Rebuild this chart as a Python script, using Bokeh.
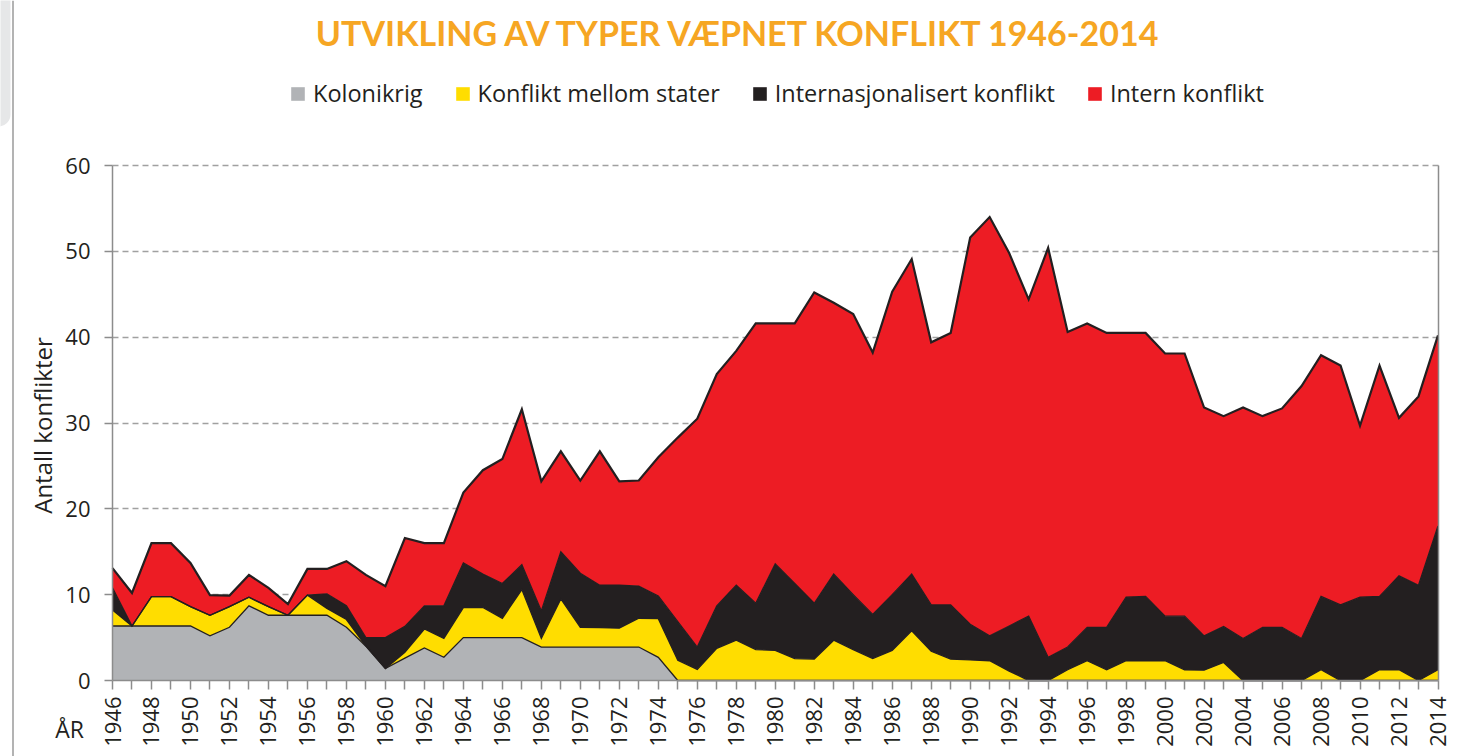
from bokeh.plotting import figure
from bokeh.models import (ColumnDataSource, FixedTicker, Legend, LegendItem, Label,
                          Range1d, LinearAxis, Span, BoxAnnotation)
from bokeh.embed import file_html
from bokeh.resources import INLINE

years = list(range(1946, 2015))

kolonikrig = [6.35, 6.35, 6.35, 6.35, 6.35, 5.2, 6.2, 8.7, 7.6, 7.6,
              7.6, 7.6, 6.2, 4.0, 1.4, 2.6, 3.8, 2.7, 5.0, 5.0,
              5.0, 5.0, 3.9, 3.9, 3.9, 3.9, 3.9, 3.9, 2.7, 0,
              0, 0, 0, 0, 0, 0, 0, 0, 0, 0,
              0, 0, 0, 0, 0, 0, 0, 0, 0, 0,
              0, 0, 0, 0, 0, 0, 0, 0, 0, 0,
              0, 0, 0, 0, 0, 0, 0, 0, 0]

mellom_stater = [1.85, 0, 3.42, 3.42, 2.25, 2.4, 2.4, 1.0, 1.0, 0,
                 2.35, 0.8, 0.9, 0, 0, 0.7, 2.2, 2.2, 3.5, 3.5,
                 2.25, 5.6, 1.0, 5.6, 2.3, 2.25, 2.2, 3.35, 4.5, 2.35,
                 1.3, 3.75, 4.7, 3.6, 3.5, 2.55, 2.5, 4.7, 3.6, 2.55,
                 3.5, 5.8, 3.4, 2.5, 2.4, 2.3, 1.1, 0, 0, 1.25,
                 2.3, 1.25, 2.3, 2.3, 2.3, 1.25, 1.2, 2.1, 0, 0,
                 0, 0, 1.25, 0, 0, 1.25, 1.25, 0, 1.25]

internasjonalisert = [2.6, 0, 0, 0, 0, 0, 0, 0, 0, 0,
                      0, 1.7, 1.6, 1.0, 3.6, 3.0, 2.7, 3.8, 5.2, 3.9,
                      4.05, 2.9, 3.2, 5.5, 6.3, 4.95, 5.0, 3.75, 2.65, 4.5,
                      2.6, 4.95, 6.4, 5.4, 10.1, 8.75, 6.5, 7.7, 6.4, 5.15,
                      6.5, 6.6, 5.4, 6.3, 4.15, 2.9, 5.25, 7.5, 2.7, 2.65,
                      3.9, 4.95, 7.4, 7.5, 5.2, 6.25, 4.0, 4.2, 4.9, 6.2,
                      6.2, 4.9, 8.55, 8.8, 9.7, 8.55, 10.95, 11.1, 16.75]

intern = [2.3, 3.85, 6.23, 6.23, 5.1, 2.35, 1.3, 2.6, 2.2, 1.3,
          3.05, 2.9, 5.2, 7.3, 6.0, 10.3, 7.3, 7.3, 8.2, 12.1,
          14.5, 18.1, 15.1, 11.7, 10.8, 15.6, 12.1, 12.3, 16.15, 21.45,
          26.6, 27.0, 27.3, 32.6, 28.0, 30.3, 36.2, 31.6, 32.7, 30.5,
          35.3, 36.7, 30.6, 31.7, 45.05, 48.8, 43.45, 36.9, 47.7, 36.7,
          35.4, 34.3, 30.8, 30.7, 30.6, 30.6, 26.6, 24.5, 26.9, 24.6,
          25.5, 29.4, 28.1, 27.9, 20.0, 26.9, 18.4, 22.0, 22.2]

series_names = ["Kolonikrig", "Konflikt mellom stater",
                "Internasjonalisert konflikt", "Intern konflikt"]
colors = ["#B1B3B6", "#FFDD00", "#231F20", "#ED1C24"]
y_ticks = [0, 10, 20, 30, 40, 50, 60]

series = [kolonikrig, mellom_stater, internasjonalisert, intern]
stackers = ["kol", "sta", "intl", "intn"]
data = dict(year=years)
cum = [0.0] * len(years)
for key, vals in zip(stackers, series):
    data[key] = vals
    cum = [c + v for c, v in zip(cum, vals)]
    data[key + "_top"] = cum
src = ColumnDataSource(data)

# ---- layout constants (canvas pixels) ----
W, H = 1456, 756
X0_PX, X1_PX = 112, 1437.5      # canvas x of 1946 and 2014
Y0_PX, Y1_PX = 680, 165         # canvas y (from top) of 0 and 60
xs = (X1_PX - X0_PX) / (2014 - 1946)
ys = (Y0_PX - Y1_PX) / 60.0
x_start = 1946 - X0_PX / xs
x_end = 2014 + (W - X1_PX) / xs
y_start = -(H - Y0_PX) / ys
y_end = 60 + Y1_PX / ys

def dx(px):
    return 1946 + (px - X0_PX) / xs

def dy(py):
    return (Y0_PX - py) / ys

FONT = "Open Sans"
TXT = "#231F20"
AX = "#8C8C8C"

p = figure(width=W, height=H, min_border=0,
           x_range=Range1d(x_start, x_end), y_range=Range1d(y_start, y_end),
           x_axis_location=None, y_axis_location=None,
           output_backend="svg", toolbar_location=None, title=None)
p.outline_line_color = None
p.background_fill_color = "white"
p.border_fill_color = "white"

# page decoration at the left edge
p.add_layout(BoxAnnotation(left=dx(-20), right=dx(10), top=dy(-20), bottom=dy(126),
                           fill_color="#E6E7E8", fill_alpha=1, line_color=None,
                           border_radius=12))
p.add_layout(Span(location=dx(12.5), dimension="height", line_color="#9A9A9A",
                  line_width=1.5))

areas = p.varea_stack(stackers=stackers, x="year", color=colors, source=src)
for key, lw in zip(stackers, [1.3, 1.3, 1.3, 2.2]):
    p.line(x="year", y=key + "_top", source=src, line_color=TXT, line_width=lw,
           line_join="miter")

# axes placed at fixed locations inside the frame
yax = LinearAxis(fixed_location=1946, bounds=(0, 60), ticker=FixedTicker(ticks=y_ticks),
                 axis_line_color=AX, axis_line_width=1.5,
                 major_tick_line_color=AX, major_tick_line_width=1.5,
                 major_tick_in=0, major_tick_out=8, minor_tick_line_color=None,
                 major_label_text_font=FONT, major_label_text_font_size="22px",
                 major_label_text_color=TXT, major_label_standoff=14)
p.add_layout(yax, "left")

xax = LinearAxis(fixed_location=0, bounds=(1946, 2014), ticker=FixedTicker(ticks=years),
                 major_label_overrides={y: (str(y) if y % 2 == 0 else "") for y in years},
                 major_label_orientation=1.5707963,
                 axis_line_color=AX, axis_line_width=1.5,
                 major_tick_line_color=AX, major_tick_line_width=1.5,
                 major_tick_in=0, major_tick_out=9, minor_tick_line_color=None,
                 major_label_text_font=FONT, major_label_text_font_size="22px",
                 major_label_text_color=TXT, major_label_standoff=7)
p.add_layout(xax, "below")

rax = LinearAxis(fixed_location=2014, bounds=(0, 60), ticker=FixedTicker(ticks=[]),
                 axis_line_color=AX, axis_line_width=1.5,
                 major_label_text_font_size="0px",
                 major_tick_line_color=None, minor_tick_line_color=None)
p.add_layout(rax, "right")

# grid
p.xgrid.grid_line_color = None
p.ygrid.ticker = FixedTicker(ticks=y_ticks[1:])
p.ygrid.cross_bounds = (1946, 2014)
p.ygrid.grid_line_color = "#A0A0A0"
p.ygrid.grid_line_dash = "6 4"
p.ygrid.grid_line_width = 1.3

# title
p.add_layout(Label(x=dx(740), y=dy(32), text="UTVIKLING AV TYPER VÆPNET KONFLIKT 1946-2014",
                   text_align="center", text_baseline="middle",
                   text_font="Lato", text_font_style="bold",
                   text_font_size="34px", text_color="#F6A623"))

# y axis title
p.add_layout(Label(x=dx(42), y=dy(425), text="Antall konflikter", angle=1.5707963,
                   text_align="center", text_baseline="middle", text_font=FONT,
                   text_font_size="24px", text_color=TXT))

# "ÅR"
p.add_layout(Label(x=dx(69), y=dy(728), text="ÅR", text_align="center",
                   text_baseline="middle", text_font=FONT,
                   text_font_size="23px", text_color=TXT))

legend = Legend(items=[LegendItem(label=n, renderers=[r]) for n, r in zip(series_names, areas)],
                orientation="horizontal", location=(289, H - 109),
                label_text_font=FONT, label_text_font_size="23.5px",
                label_text_color=TXT, glyph_width=17, glyph_height=17,
                label_standoff=7, spacing=31, padding=0, margin=0,
                border_line_color=None, background_fill_alpha=0)
p.add_layout(legend)

open("out.html", "w").write(file_html(p, INLINE))
